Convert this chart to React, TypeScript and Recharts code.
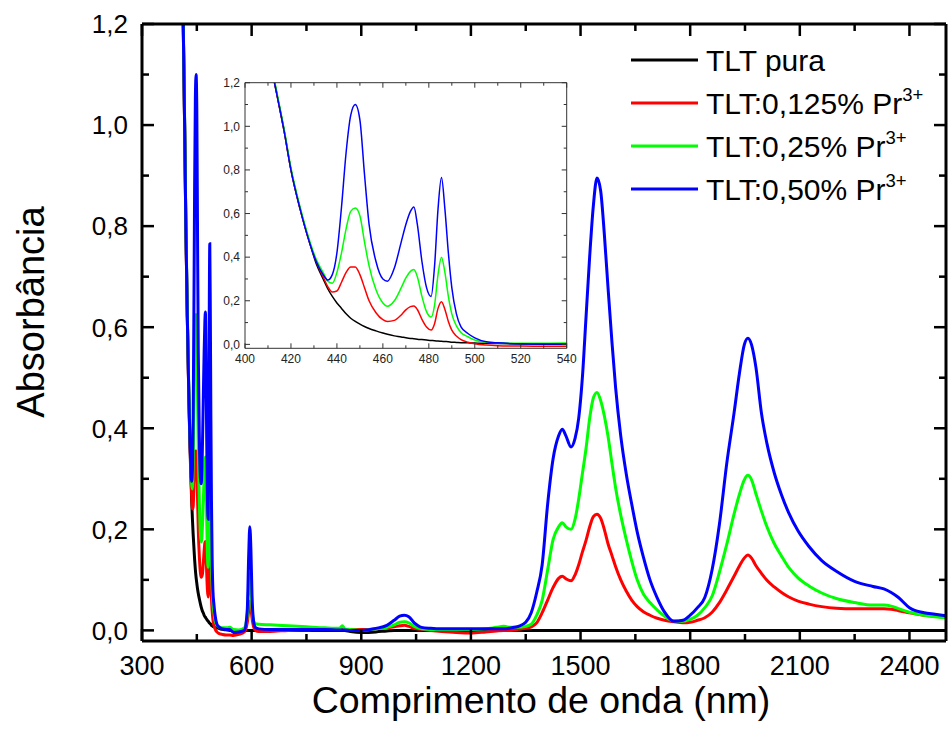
import React from "react";
import { LineChart, Line, XAxis, YAxis, Legend, Label, CartesianGrid } from "recharts";

const FONT = "'Liberation Sans', Arial, Helvetica, sans-serif";

// ---- UV / visible region (also used by the inset) ----
const nmUv = [
  404, 408, 411, 414, 417, 420, 424, 428, 431, 434, 436, 438, 440, 442, 444, 446, 448, 450, 452, 454, 457, 460, 462,
  465, 468, 470, 472, 473.5, 475, 477, 479, 481, 482.5, 484, 485.5, 487, 488.5, 490, 492, 494, 497, 500, 505, 510, 520,
  530, 540,
];
const pureUv = [
  1.9, 1.5, 1.3, 1.14, 0.98, 0.8, 0.62, 0.47, 0.37, 0.3, 0.255, 0.22, 0.19, 0.165, 0.14, 0.12, 0.105, 0.093, 0.082,
  0.073, 0.062, 0.052, 0.046, 0.039, 0.034, 0.03, 0.027, 0.026, 0.024, 0.022, 0.02, 0.018, 0.017, 0.015, 0.014, 0.013,
  0.012, 0.01, 0.009, 0.008, 0.007, 0.006, 0.005, 0.004, 0.002, 0.001, 0.0,
];
const pr125Uv = [
  1.9, 1.5, 1.3, 1.14, 0.98, 0.8, 0.62, 0.47, 0.38, 0.31, 0.265, 0.24, 0.245, 0.285, 0.33, 0.355, 0.355, 0.32, 0.26,
  0.2, 0.145, 0.113, 0.105, 0.11, 0.135, 0.158, 0.173, 0.176, 0.16, 0.115, 0.08, 0.066, 0.095, 0.165, 0.196, 0.16,
  0.105, 0.065, 0.038, 0.022, 0.01, 0.003, -0.003, -0.006, -0.008, -0.009, -0.009,
];
const pr25Uv = [
  1.9, 1.5, 1.31, 1.15, 0.99, 0.81, 0.63, 0.48, 0.39, 0.33, 0.29, 0.28, 0.33, 0.42, 0.53, 0.61, 0.625, 0.59, 0.47, 0.36,
  0.25, 0.19, 0.175, 0.2, 0.26, 0.305, 0.335, 0.343, 0.31, 0.22, 0.15, 0.125, 0.18, 0.32, 0.4, 0.33, 0.22, 0.14, 0.085,
  0.055, 0.035, 0.02, 0.01, 0.007, 0.005, 0.005, 0.006,
];
const pr50Uv = [
  1.9, 1.5, 1.3, 1.14, 0.98, 0.8, 0.62, 0.47, 0.38, 0.32, 0.295, 0.32, 0.42, 0.63, 0.88, 1.05, 1.1, 1.03, 0.78, 0.55,
  0.38, 0.3, 0.29, 0.35, 0.47, 0.55, 0.61, 0.63, 0.55, 0.38, 0.26, 0.22, 0.36, 0.62, 0.765, 0.62, 0.42, 0.26, 0.14, 0.08,
  0.05, 0.03, 0.012, 0.007, 0.003, 0.002, 0.002,
];

// ---- visible / NIR region ----
const nmNir = [
  550, 565, 580, 588, 592, 595, 598, 601, 605, 610, 620, 650, 700, 750, 800, 840, 848, 855, 870, 900, 940, 970, 990,
  1005, 1018, 1030, 1045, 1065, 1090, 1120, 1160, 1200, 1240, 1270, 1290, 1310, 1330, 1350, 1365, 1380, 1395, 1410,
  1425, 1440, 1450, 1460, 1474, 1485, 1495, 1505, 1515, 1525, 1535, 1545, 1555, 1565, 1575, 1586, 1596, 1610, 1625,
  1640, 1655, 1672, 1690, 1710, 1730, 1755, 1780, 1800, 1820, 1840, 1860, 1880, 1900, 1920, 1935, 1948, 1958, 1968,
  1980, 1995, 2010, 2030, 2050, 2070, 2095, 2125, 2160, 2200, 2250, 2300, 2330, 2350, 2370, 2400, 2440, 2470, 2500,
];
const pureNir = [
  0, 0, 0, 0, 0, 0, 0, 0, 0, 0, 0, 0, 0, 0, 0, 0, 0, 0, -0.002, -0.004, -0.003, -0.001, 0, 0, 0, 0, 0, 0, 0, 0, 0, 0,
  0, 0, 0, 0, 0, 0, 0, 0, 0, 0, 0, 0, 0, 0, 0, 0, 0, 0, 0, 0, 0, 0, 0, 0, 0, 0, 0, 0, 0, 0, 0, 0, 0, 0, 0, 0, 0, 0, 0,
  0, 0, 0, 0, 0, 0, 0, 0, 0, 0, 0, 0, 0, 0, 0, 0, 0, 0, 0, 0, 0, 0, 0, 0, 0, 0, 0, 0,
];
const pr125Nir = [
  -0.01, -0.008, -0.003, 0.015, 0.04, 0.058, 0.045, 0.025, 0.008, 0.0, -0.002, -0.002, 0.0, 0.001, 0.002, 0.002, 0.002,
  0.002, 0.002, 0.002, 0.003, 0.005, 0.007, 0.009, 0.01, 0.008, 0.004, 0.002, 0.0, -0.002, -0.004, -0.005, -0.003,
  -0.001, 0.0, 0.0, 0.002, 0.004, 0.007, 0.015, 0.035, 0.06, 0.085, 0.103, 0.107, 0.102, 0.098, 0.11, 0.13, 0.155,
  0.178, 0.205, 0.225, 0.23, 0.222, 0.2, 0.172, 0.148, 0.126, 0.1, 0.078, 0.06, 0.047, 0.037, 0.03, 0.024, 0.02, 0.017,
  0.015, 0.016, 0.02, 0.025, 0.036, 0.055, 0.08, 0.107, 0.128, 0.143, 0.149, 0.143, 0.128, 0.113, 0.099, 0.086, 0.075,
  0.066, 0.058, 0.052, 0.047, 0.044, 0.043, 0.043, 0.043, 0.042, 0.039, 0.035, 0.03, 0.028, 0.026,
];
const pr25Nir = [
  0.002, 0.001, 0.005, 0.03, 0.085, 0.112, 0.09, 0.045, 0.02, 0.013, 0.012, 0.011, 0.009, 0.007, 0.005, 0.004, 0.009,
  0.003, 0.002, 0.0, 0.003, 0.006, 0.011, 0.016, 0.017, 0.015, 0.008, 0.003, 0.002, 0.002, 0.002, 0.002, 0.003, 0.006,
  0.008, 0.006, 0.006, 0.008, 0.012, 0.03, 0.06, 0.12, 0.18, 0.205, 0.213, 0.205, 0.2, 0.22, 0.26, 0.31, 0.36, 0.42,
  0.46, 0.471, 0.455, 0.425, 0.385, 0.33, 0.282, 0.228, 0.18, 0.137, 0.1, 0.072, 0.055, 0.04, 0.028, 0.019, 0.018,
  0.022, 0.03, 0.045, 0.068, 0.115, 0.17, 0.23, 0.27, 0.298, 0.307, 0.298, 0.27, 0.236, 0.205, 0.172, 0.147, 0.124,
  0.104, 0.088, 0.074, 0.063, 0.055, 0.05, 0.05, 0.048, 0.043, 0.036, 0.03, 0.027, 0.025,
];
const pr50Nir = [
  -0.004, -0.003, 0.0, 0.04, 0.15, 0.205, 0.16, 0.07, 0.02, 0.006, 0.003, 0.002, 0.002, 0.002, 0.002, 0.001, 0.001,
  0.001, 0.0, 0.0, 0.004, 0.01, 0.02, 0.028, 0.03, 0.027, 0.015, 0.006, 0.004, 0.003, 0.003, 0.003, 0.003, 0.003, 0.003,
  0.005, 0.008, 0.016, 0.035, 0.075, 0.13, 0.25, 0.34, 0.385, 0.398, 0.385, 0.363, 0.38, 0.42, 0.5, 0.62, 0.74, 0.84,
  0.895, 0.87, 0.785, 0.68, 0.57, 0.48, 0.385, 0.31, 0.25, 0.195, 0.145, 0.1, 0.064, 0.036, 0.018, 0.02, 0.03, 0.045,
  0.065, 0.12, 0.21, 0.33, 0.43, 0.51, 0.565, 0.578, 0.565, 0.52, 0.43, 0.37, 0.312, 0.268, 0.232, 0.197, 0.166, 0.138,
  0.117, 0.097, 0.087, 0.082, 0.075, 0.065, 0.045, 0.035, 0.032, 0.029,
];

const seriesKeys = ["pure", "pr125", "pr25", "pr50"];
const seriesNames = ["TLT pura", "TLT:0,125% Pr3+", "TLT:0,25% Pr3+", "TLT:0,50% Pr3+"];
const seriesColors = ["#000000", "#ff0000", "#00ff00", "#0000ff"];

const mainXTicks = [300, 450, 600, 750, 900, 1050, 1200, 1350, 1500, 1650, 1800, 1950, 2100, 2250, 2400];
const yTicks = [0, 0.1, 0.2, 0.3, 0.4, 0.5, 0.6, 0.7, 0.8, 0.9, 1.0, 1.1, 1.2];
const insetXTicks = [400, 410, 420, 430, 440, 450, 460, 470, 480, 490, 500, 510, 520, 530, 540];

const uvSeries = [pureUv, pr125Uv, pr25Uv, pr50Uv];
const nirSeries = [pureNir, pr125Nir, pr25Nir, pr50Nir];

const buildRows = (nm: number[], cols: number[][]) =>
  nm.map((w, i) => {
    const row: any = { nm: w };
    seriesKeys.forEach((k, j) => (row[k] = cols[j][i]));
    return row;
  });

const insetRows = buildRows(nmUv, uvSeries);
const mainRows = buildRows(
  nmUv.concat(nmNir),
  uvSeries.map((s, j) => s.concat(nirSeries[j]))
);

const comma = (v: number) => v.toFixed(1).replace(".", ",");
const xMajor = (v: number) => Math.round(v) % 300 === 0;
const yMajor = (v: number) => Math.round(v * 10) % 2 === 0;
const insetXMajor = (v: number) => Math.round(v) % 20 === 0;

type TickOpts = {
  side: "top" | "bottom" | "left" | "right";
  isMajor: (v: number) => boolean;
  longLen: number;
  shortLen: number;
  stroke: string;
  sw: number;
  fmt?: (v: number) => string;
  fontSize?: number;
  gap?: number;
  color?: string;
};

// inward tick mark + optional label, drawn at the position the axis hands over
const makeTick = (o: TickOpts) => (props: any) => {
  const x = Number(props.x);
  const y = Number(props.y);
  const v = Number(props.payload && props.payload.value);
  const big = o.isMajor(v);
  const len = big ? o.longLen : o.shortLen;
  const h = o.sw / 2;
  let r = { x: x - h, y: y - len, w: o.sw, hh: len };
  if (o.side === "top") r = { x: x - h, y: y, w: o.sw, hh: len };
  if (o.side === "left") r = { x: x, y: y - h, w: len, hh: o.sw };
  if (o.side === "right") r = { x: x - len, y: y - h, w: len, hh: o.sw };
  const fs = o.fontSize || 12;
  const showLabel = !!o.fmt && big;
  let label: any = null;
  if (showLabel && o.side === "bottom") {
    label = (
      <text x={x} y={y + (o.gap || 0)} textAnchor="middle" fontSize={fs} fontFamily={FONT} fill={o.color}>
        {o.fmt!(v)}
      </text>
    );
  }
  if (showLabel && o.side === "left") {
    label = (
      <text x={x - (o.gap || 0)} y={y + fs * 0.36} textAnchor="end" fontSize={fs} fontFamily={FONT} fill={o.color}>
        {o.fmt!(v)}
      </text>
    );
  }
  return (
    <g>
      <rect x={r.x} y={r.y} width={r.w} height={r.hh} fill={o.stroke} stroke="none" />
      {label}
    </g>
  );
};

const frame = { stroke: "#000", strokeWidth: 3 };
const insetFrame = { stroke: "#333", strokeWidth: 1 };

const renderLegend = (props: any) => {
  const items = props.payload || [];
  return (
    <svg width={329} height={175}>
      {items.map((it: any, i: number) => {
        const cy = 24 + i * 43;
        const name = String(it.value);
        const hasSup = name.endsWith("3+");
        const base = hasSup ? name.slice(0, -2) : name;
        return (
          <g key={name}>
            <line x1={11} y1={cy} x2={78} y2={cy} stroke={it.color} strokeWidth={3} />
            <text x={86} y={cy + 10.8} fontSize={30} fontFamily={FONT} fill="#000">
              {base}
              {hasSup && (
                <tspan dy={-12.5} fontSize={18.5}>
                  3+
                </tspan>
              )}
            </text>
          </g>
        );
      })}
    </svg>
  );
};

function Inset() {
  return (
    <div style={{ position: "absolute", left: 200, top: 70 }}>
      <LineChart width={380} height={300} data={insetRows} margin={{ top: 11.7, right: 12.3, bottom: 0, left: 0 }}>
        <CartesianGrid fill="#ffffff" horizontal={false} vertical={false} xAxisId="b" yAxisId="l" />
        <XAxis
          xAxisId="b"
          dataKey="nm"
          type="number"
          domain={[400, 540]}
          allowDataOverflow
          ticks={insetXTicks}
          interval={0}
          height={21.7}
          tickSize={0}
          tickMargin={0}
          tickLine={false}
          axisLine={insetFrame}
          tick={makeTick({ side: "bottom", isMajor: insetXMajor, longLen: 5, shortLen: 3, stroke: "#333", sw: 1, fmt: (v) => String(v), fontSize: 12, gap: 15, color: "#222" })}
        />
        <XAxis
          xAxisId="t"
          orientation="top"
          dataKey="nm"
          type="number"
          domain={[400, 540]}
          allowDataOverflow
          ticks={insetXTicks}
          interval={0}
          height={1}
          tickSize={0}
          tickMargin={0}
          tickLine={false}
          axisLine={insetFrame}
          tick={makeTick({ side: "top", isMajor: insetXMajor, longLen: 5, shortLen: 3, stroke: "#333", sw: 1 })}
        />
        <YAxis
          yAxisId="l"
          type="number"
          domain={[-0.018, 1.2]}
          allowDataOverflow
          ticks={yTicks}
          interval={0}
          width={45}
          tickSize={0}
          tickMargin={0}
          tickLine={false}
          axisLine={insetFrame}
          tick={makeTick({ side: "left", isMajor: yMajor, longLen: 5, shortLen: 3, stroke: "#333", sw: 1, fmt: comma, fontSize: 12, gap: 5, color: "#222" })}
        />
        <YAxis
          yAxisId="r"
          orientation="right"
          type="number"
          domain={[-0.018, 1.2]}
          allowDataOverflow
          ticks={yTicks}
          interval={0}
          width={1}
          tickSize={0}
          tickMargin={0}
          tickLine={false}
          axisLine={insetFrame}
          tick={makeTick({ side: "right", isMajor: yMajor, longLen: 5, shortLen: 3, stroke: "#333", sw: 1 })}
        />
        {seriesKeys.map((k, i) => (
          <Line
            key={k}
            xAxisId="b"
            yAxisId="l"
            type="monotone"
            dataKey={k}
            name={seriesNames[i]}
            stroke={seriesColors[i]}
            strokeWidth={1.5}
            dot={false}
            isAnimationActive={false}
          />
        ))}
      </LineChart>
    </div>
  );
}

export default function App() {
  return (
    <div style={{ position: "absolute", left: 0, top: 0, width: 949, height: 745, background: "#fff" }}>
      <LineChart width={949} height={745} data={mainRows} margin={{ top: 23, right: 2, bottom: 0, left: 0 }}>
        <XAxis
          xAxisId="b"
          dataKey="nm"
          type="number"
          domain={[300, 2500]}
          allowDataOverflow
          ticks={mainXTicks}
          interval={0}
          height={104}
          tickSize={0}
          tickMargin={0}
          tickLine={false}
          axisLine={frame}
          tick={makeTick({ side: "bottom", isMajor: xMajor, longLen: 12, shortLen: 7, stroke: "#000", sw: 2.5, fmt: (v) => String(v), fontSize: 27, gap: 34, color: "#000" })}
        >
          <Label
            content={(p: any) => {
              const vb = p.viewBox || {};
              return (
                <text x={vb.x + vb.width / 2 - 3} y={vb.y + 72} textAnchor="middle" fontSize={37.5} fontFamily={FONT} fill="#000">
                  Comprimento de onda (nm)
                </text>
              );
            }}
          />
        </XAxis>
        <XAxis
          xAxisId="t"
          orientation="top"
          dataKey="nm"
          type="number"
          domain={[300, 2500]}
          allowDataOverflow
          ticks={mainXTicks}
          interval={0}
          height={1}
          tickSize={0}
          tickMargin={0}
          tickLine={false}
          axisLine={frame}
          tick={makeTick({ side: "top", isMajor: xMajor, longLen: 12, shortLen: 7, stroke: "#000", sw: 2.5 })}
        />
        <YAxis
          yAxisId="l"
          type="number"
          domain={[-0.021, 1.2]}
          allowDataOverflow
          ticks={yTicks}
          interval={0}
          width={142}
          tickSize={0}
          tickMargin={0}
          tickLine={false}
          axisLine={frame}
          tick={makeTick({ side: "left", isMajor: yMajor, longLen: 12, shortLen: 7, stroke: "#000", sw: 2.5, fmt: comma, fontSize: 26, gap: 14, color: "#000" })}
        >
          <Label
            content={() => (
              <text x={44} y={312} transform="rotate(-90 44 312)" textAnchor="middle" fontSize={38} fontFamily={FONT} fill="#000">
                Absorbância
              </text>
            )}
          />
        </YAxis>
        <YAxis
          yAxisId="r"
          orientation="right"
          type="number"
          domain={[-0.021, 1.2]}
          allowDataOverflow
          ticks={yTicks}
          interval={0}
          width={1}
          tickSize={0}
          tickMargin={0}
          tickLine={false}
          axisLine={frame}
          tick={makeTick({ side: "right", isMajor: yMajor, longLen: 12, shortLen: 7, stroke: "#000", sw: 2.5 })}
        />
        <Legend
          layout="horizontal"
          verticalAlign="middle"
          align="center"
          content={renderLegend}
          wrapperStyle={{ left: 620, top: 36, width: 329, height: 175 }}
        />
        {seriesKeys.map((k, i) => (
          <Line
            key={k}
            xAxisId="b"
            yAxisId="l"
            type="monotone"
            dataKey={k}
            name={seriesNames[i]}
            stroke={seriesColors[i]}
            strokeWidth={3}
            dot={false}
            isAnimationActive={false}
          />
        ))}
      </LineChart>
      <Inset />
    </div>
  );
}
